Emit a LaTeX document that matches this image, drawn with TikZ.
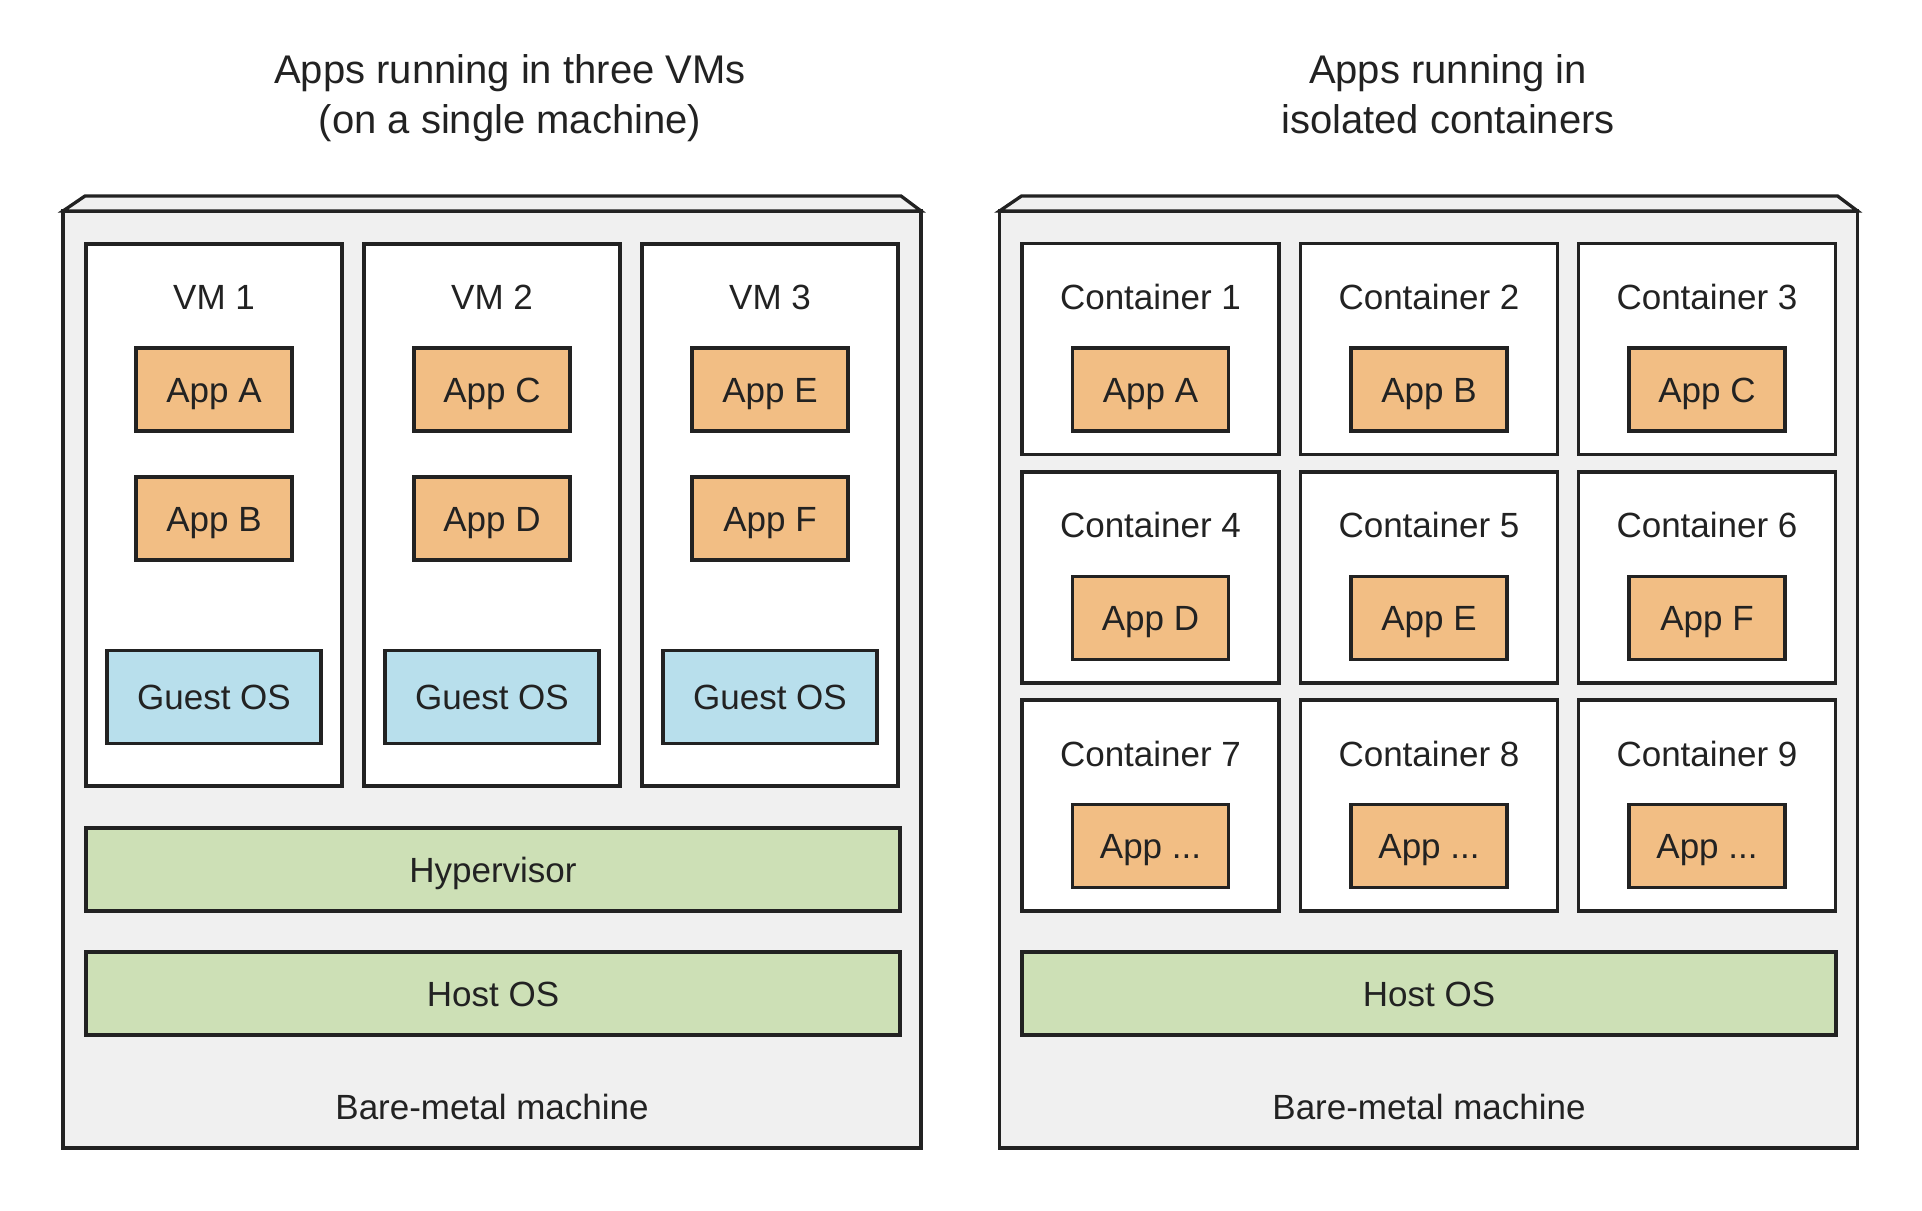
\documentclass[tikz,border=0pt]{standalone}
\usepackage{fontspec}
\setmainfont{Liberation Sans}
\definecolor{edge}{HTML}{222222}
\definecolor{metal}{HTML}{F0F0F0}
\definecolor{appfill}{HTML}{F2BE84}
\definecolor{osfill}{HTML}{B8DFEC}
\definecolor{layerfill}{HTML}{CDE0B6}
\begin{document}
\begin{tikzpicture}[x=1pt,y=-1pt,
  every node/.style={font=\fontsize{35}{42}\selectfont, text=edge, inner sep=0pt, outer sep=0pt},
  box/.style={draw=edge, line width=3.3pt, rectangle, text height=25pt, text depth=0pt},
  machine/.style={box, fill=metal, minimum width=858pt, minimum height=937pt},
  lid/.style={draw=edge, line width=3.3pt, fill=metal, line join=miter},
  vmbox/.style={box, fill=white, minimum width=256pt, minimum height=542pt},
  cbox/.style={box, fill=white, minimum width=257pt, minimum height=211pt},
  appbox/.style={box, fill=appfill, minimum width=156pt, minimum height=83pt},
  osbox/.style={box, fill=osfill, minimum width=214pt, minimum height=93pt},
  layer/.style={box, fill=layerfill, minimum width=814pt, minimum height=83pt},
  caption/.style={anchor=base},
  heading/.style={anchor=base, font=\fontsize{40}{48}\selectfont}
]
\useasboundingbox (0,0) rectangle (1922,1210);

% ---------- virtual machines ----------
\node[heading] (vmtitle1) at (510,83) {Apps running in three VMs};
\node[heading] (vmtitle2) at (510,133) {(on a single machine)};

\node[machine] (vmhost) at (492,679.5) {};
\filldraw[lid] (vmhost.north west) -- ++(22,-15)
  -- ([xshift=-20pt,yshift=15pt]vmhost.north east) -- (vmhost.north east) -- cycle;
\node[caption] (vmmetal) at (492,1119) {Bare-metal machine};

\node[vmbox] (vm1) at (214,515) {};
\node[vmbox] (vm2) at (492,515) {};
\node[vmbox] (vm3) at (770,515) {};
\node[caption] (vm1label) at (214,309) {VM 1};
\node[caption] (vm2label) at (492,309) {VM 2};
\node[caption] (vm3label) at (770,309) {VM 3};

\node[appbox] (vmappA) at (214,389.5) {App A};
\node[appbox] (vmappB) at (214,518.5) {App B};
\node[appbox] (vmappC) at (492,389.5) {App C};
\node[appbox] (vmappD) at (492,518.5) {App D};
\node[appbox] (vmappE) at (770,389.5) {App E};
\node[appbox] (vmappF) at (770,518.5) {App F};

\node[osbox] (guest1) at (214,697) {Guest OS};
\node[osbox] (guest2) at (492,697) {Guest OS};
\node[osbox] (guest3) at (770,697) {Guest OS};

\node[layer] (hyper) at (493,869.5) {Hypervisor};
\node[layer] (vmhostos) at (493,993.5) {Host OS};

% ---------- containers ----------
\node[heading] (cttitle1) at (1448,83) {Apps running in};
\node[heading] (cttitle2) at (1448,133) {isolated containers};

\node[machine] (cthost) at (1428.5,679.5) {};
\filldraw[lid] (cthost.north west) -- ++(22,-15)
  -- ([xshift=-20pt,yshift=15pt]cthost.north east) -- (cthost.north east) -- cycle;
\node[caption] (ctmetal) at (1429,1119) {Bare-metal machine};

\node[cbox] (ct1) at (1150.5,349) {};
\node[cbox] (ct2) at (1429,349) {};
\node[cbox] (ct3) at (1707,349) {};
\node[cbox] (ct4) at (1150.5,577.5) {};
\node[cbox] (ct5) at (1429,577.5) {};
\node[cbox] (ct6) at (1707,577.5) {};
\node[cbox] (ct7) at (1150.5,805.5) {};
\node[cbox] (ct8) at (1429,805.5) {};
\node[cbox] (ct9) at (1707,805.5) {};

\node[caption] (ct1label) at (1150.5,309) {Container 1};
\node[caption] (ct2label) at (1429,309) {Container 2};
\node[caption] (ct3label) at (1707,309) {Container 3};
\node[caption] (ct4label) at (1150.5,537) {Container 4};
\node[caption] (ct5label) at (1429,537) {Container 5};
\node[caption] (ct6label) at (1707,537) {Container 6};
\node[caption] (ct7label) at (1150.5,766) {Container 7};
\node[caption] (ct8label) at (1429,766) {Container 8};
\node[caption] (ct9label) at (1707,766) {Container 9};

\node[appbox] (ctappA) at (1150.5,389.5) {App A};
\node[appbox] (ctappB) at (1429,389.5) {App B};
\node[appbox] (ctappC) at (1707,389.5) {App C};
\node[appbox] (ctappD) at (1150.5,618) {App D};
\node[appbox] (ctappE) at (1429,618) {App E};
\node[appbox] (ctappF) at (1707,618) {App F};
\node[appbox] (ctapp7) at (1150.5,846) {App ...};
\node[appbox] (ctapp8) at (1429,846) {App ...};
\node[appbox] (ctapp9) at (1707,846) {App ...};

\node[layer] (cthostos) at (1429,993.5) {Host OS};
\end{tikzpicture}
\end{document}
